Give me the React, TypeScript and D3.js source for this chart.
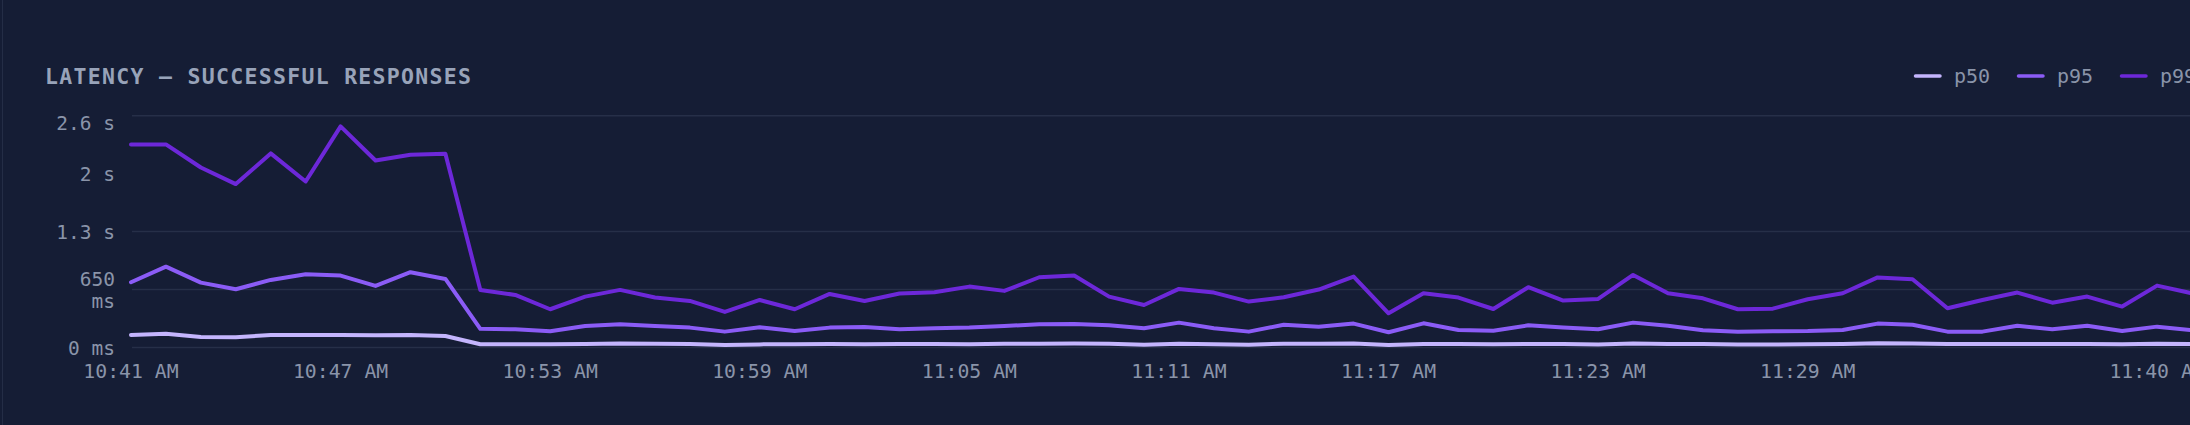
import { useMemo } from 'react';
import * as d3 from 'd3';

// minute buckets (one gap after 11:35)
const times = (
  "10:41 10:42 10:43 10:44 10:45 10:46 10:47 10:48 10:49 10:50 " +
  "10:51 10:52 10:53 10:54 10:55 10:56 10:57 10:58 10:59 11:00 " +
  "11:01 11:02 11:03 11:04 11:05 11:06 11:07 11:08 11:09 11:10 " +
  "11:11 11:12 11:13 11:14 11:15 11:16 11:17 11:18 11:19 11:20 " +
  "11:21 11:22 11:23 11:24 11:25 11:26 11:27 11:28 11:29 11:30 " +
  "11:31 11:32 11:33 11:34 11:35 11:37 11:38 11:39 11:40 11:41"
).split(" ").map(t => `${t} AM`);

const xTickLabels = [
  "10:41 AM", "10:47 AM", "10:53 AM", "10:59 AM", "11:05 AM",
  "11:11 AM", "11:17 AM", "11:23 AM", "11:29 AM", "11:40 AM"
];

// latency in ms
const p50 = [
  140, 155, 118, 115, 140, 140, 140, 138, 140, 129,
  36, 36, 36, 38, 45, 42, 38, 28, 35, 36,
  38, 36, 40, 38, 36, 43, 43, 44, 43, 30,
  43, 37, 30, 43, 43, 44, 28, 40, 38, 36,
  40, 38, 34, 44, 40, 38, 34, 34, 36, 40,
  48, 46, 38, 38, 40, 38, 40, 36, 42, 38
];
const p95 = [
  732, 907, 728, 653, 758, 822, 807, 691, 845, 769,
  210, 204, 182, 241, 260, 241, 223, 178, 226, 185,
  223, 230, 204, 215, 223, 241, 260, 264, 249, 215,
  279, 215, 178, 256, 234, 268, 171, 271, 197, 189,
  249, 223, 204, 279, 245, 193, 178, 182, 185, 197,
  268, 256, 178, 178, 245, 204, 245, 185, 234, 193
];
const p99 = [
  2278, 2278, 2019, 1833, 2177, 1862, 2480, 2098, 2162, 2173,
  645, 590, 429, 571, 646, 560, 522, 399, 533, 429,
  601, 522, 605, 620, 683, 635, 788, 807, 571, 477,
  657, 616, 515, 563, 650, 795, 384, 608, 560, 432,
  676, 526, 545, 814, 608, 552, 429, 436, 541, 608,
  786, 766, 440, 533, 616, 503, 571, 459, 694, 608
];

const seriesNames = ["p50", "p95", "p99"];
const seriesColors = ["#c4b5fd", "#8b5cf6", "#6d28d9"];
const yTicks = [0, 650, 1300, 1950, 2600];
const gridValues = [0, 650, 1300, 2600];

const FONT = "'DejaVu Sans Mono', 'Liberation Mono', monospace";
const BG = "#151d35";
const MUTED = "#8a94a9";

// 650 -> ["650", "ms"], 1950 -> ["2 s"]
function fmtMs(v: number): string[] {
  if (v === 0) return ["0 ms"];
  if (v < 1000) return [`${v}`, "ms"];
  return [`${Math.round(v / 100) / 10} s`];
}

export default function App() {
  const W = 2300;
  const H = 425;

  const x = useMemo(
    () => d3.scalePoint<string>().domain(times).range([131, 2192]),
    []
  );
  const y = useMemo(
    () => d3.scaleLinear().domain([0, 2600]).range([347.5, 115.7]),
    []
  );

  const series = [p50, p95, p99];
  const line = d3
    .line<number>()
    .x((_, i) => x(times[i]) ?? 0)
    .y(d => y(d));

  const legendX = 1914;
  const legendStep = 103;

  return (
    <div
      style={{
        position: 'fixed',
        left: 0,
        top: 0,
        width: 2190,
        height: 425,
        overflow: 'hidden',
        background: BG,
      }}
    >
      <svg width={W} height={H} style={{ display: 'block', fontFamily: FONT }}>
        <rect x={0} y={0} width={W} height={H} fill={BG} />
        <line x1={2.5} x2={2.5} y1={0} y2={H} stroke="#242d46" strokeWidth={1} />

        <text
          x={45}
          y={84}
          fill="#98a3b9"
          fontSize={21.5}
          fontWeight={600}
          letterSpacing={1.3}
        >
          LATENCY — SUCCESSFUL RESPONSES
        </text>

        {/* legend */}
        {seriesNames.map((name, i) => (
          <g key={name} transform={`translate(${legendX + i * legendStep},76)`}>
            <line
              x1={1.5}
              x2={26}
              y1={0}
              y2={0}
              stroke={seriesColors[i]}
              strokeWidth={3.5}
              strokeLinecap="round"
            />
            <text x={40} y={0} dy="0.36em" fill={MUTED} fontSize={20}>
              {name}
            </text>
          </g>
        ))}

        {/* grid */}
        {gridValues.map(v => (
          <line
            key={v}
            x1={132}
            x2={W}
            y1={y(v)}
            y2={y(v)}
            stroke="#262f48"
            strokeWidth={1.5}
          />
        ))}

        {/* y axis labels */}
        {yTicks.map(v => {
          const parts = fmtMs(v);
          const top = v === 2600;
          const base = top ? y(v) + 14.5 : y(v) + 7;
          return (
            <text
              key={v}
              textAnchor="end"
              fill={MUTED}
              fontSize={19.5}
            >
              {parts.length === 1 ? (
                <tspan x={115} y={base}>{parts[0]}</tspan>
              ) : (
                <>
                  <tspan x={115} y={base - 11}>{parts[0]}</tspan>
                  <tspan x={115} y={base + 11}>{parts[1]}</tspan>
                </>
              )}
            </text>
          );
        })}

        {/* x axis labels */}
        {xTickLabels.map(t => (
          <text
            key={t}
            x={x(t)}
            y={378}
            textAnchor="middle"
            fill={MUTED}
            fontSize={19.8}
          >
            {t}
          </text>
        ))}

        {/* series */}
        {series.map((s, i) => (
          <path
            key={seriesNames[i]}
            d={line(s) ?? ''}
            fill="none"
            stroke={seriesColors[i]}
            strokeWidth={4}
            strokeLinejoin="round"
            strokeLinecap="round"
          />
        ))}
      </svg>
    </div>
  );
}
